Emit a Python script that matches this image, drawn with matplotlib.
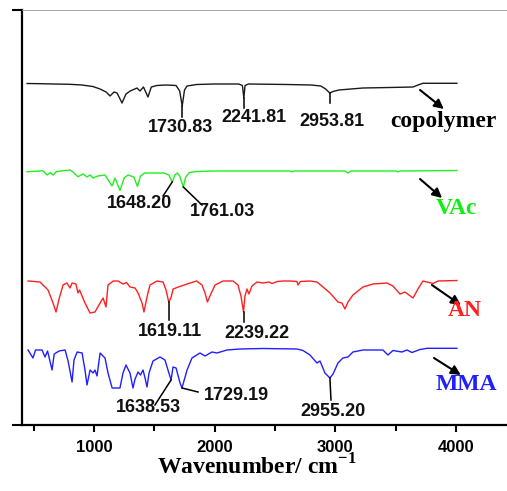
import numpy as np
import matplotlib
matplotlib.use('Agg')
import matplotlib.pyplot as plt

plt.rcParams['mathtext.fontset'] = 'custom'
plt.rcParams['mathtext.rm'] = 'Liberation Serif:bold'

# spectra: wavenumber (cm-1) and band depth below each trace's baseline
wn_copolymer = [445, 560, 660, 800, 900, 990, 1050, 1100, 1133, 1165, 1191, 1232, 1265, 1300,
                1356, 1381, 1410, 1447, 1475, 1520, 1600, 1680, 1710, 1730.83, 1750, 1771,
                1850, 2000, 2200, 2230, 2241.81, 2252, 2280, 2600, 2800, 2880, 2920, 2953.81,
                2981, 3030, 3229, 3450, 3644, 3685, 3726, 4008]
d_copolymer = [-0.5, -0.3, 0, 0.3, 1, 2.5, 5, 8, 12, 8, 9, 19, 10, 7,
               4, 7, 3, 13, 3, 1.5, 1, 1.5, 7, 22, 6, 2,
               0.5, 0, 0, 1.5, 14, 1.5, 0, 0.5, 1, 2, 5, 9,
               7.5, 6, 4, 3.5, 3, 1, -0.7, -0.7]

wn_vac = [445, 560, 577, 611, 640, 660, 690, 801, 830, 867, 909, 942, 967, 992, 1030,
          1091, 1149, 1174, 1215, 1250, 1282, 1330, 1360, 1385, 1420, 1500, 1580, 1620,
          1648.20, 1670, 1690, 1710, 1740, 1760, 1790, 1850, 2000, 2620, 2640, 2660,
          3080, 3105, 3130, 3500, 3520, 3540, 4008]
d_vac = [0.7, 0, -0.3, 4, 1.5, 4, 0.5, -1, 1.5, 5.7, 3, 6, 4, 7, 5,
         4, 15, 7, 19.5, 7, 4, 6, 15.5, 5, 2, 2, 2, 4,
         11, 4, 2, 5, 16, 6, 1.5, 0.5, 0, 0, 0.8, 0,
         0, 2, 0, 0, 0.8, 0, -0.5]

wn_an = [453, 552, 619, 660, 685, 710, 743, 775, 801, 818, 850, 867, 880, 925, 967, 1008,
         1050, 1075, 1099, 1116, 1160, 1199, 1240, 1270, 1298, 1340, 1365, 1398, 1414,
         1439, 1464, 1522, 1572, 1597, 1619.11, 1640, 1655, 1700, 1771, 1850, 1895, 1920,
         1940, 1961, 2003, 2070, 2152, 2193, 2218, 2239.22, 2251, 2268, 2284, 2309, 2351,
         2401, 2450, 2475, 2520, 2566, 2624, 2682, 2691, 2710, 2790, 2848, 2898, 2956,
         3000, 3022, 3055, 3080, 3105, 3146, 3229, 3312, 3428, 3478, 3536, 3577, 3644,
         3685, 3726, 3809, 3851, 4008]
d_an = [0, 1, 9, 22, 31, 18, 4, 2, 7, 2, 3, 12, 9, 22, 32, 31,
        22, 17, 26, 4, 0, 0, 3, 1.5, 6, 7, 12, 22, 31,
        16, 4, 0, 1, 9, 21, 16, 8, 6, 3, 0, 4, 12,
        21, 15, 4, 0, 0, 4, 15, 31, 15, 8, 13, 5, 1,
        2, 1, 2.5, 0.5, 0, 0, 0.5, 4, 0.5, 0, 1, 6, 12,
        18, 21, 22, 28, 21, 14, 6, 3, 2, 5, 13, 11, 17,
        8, 0, 2.5, 0, -0.5]

wn_mma = [453, 494, 515, 569, 594, 615, 652, 670, 710, 760, 785, 818, 834, 860, 901, 925,
          942, 967, 992, 1008, 1025, 1050, 1091, 1116, 1150, 1191, 1215, 1240, 1265, 1298,
          1323, 1340, 1365, 1385, 1406, 1423, 1439, 1456, 1489, 1547, 1588, 1613, 1638.53,
          1655, 1680, 1713, 1729.19, 1771, 1812, 1878, 1920, 1978, 2019, 2102, 2210, 2400,
          2682, 2732, 2790, 2848, 2873, 2914, 2955.20, 2981, 3022, 3063, 3105, 3146, 3229,
          3395, 3436, 3478, 3552, 3594, 3635, 3702, 3760, 4008]
d_mma = [1, 9, 1, 1, 8, 2, 21, 5, 2, 1, 12, 33, 11, 3, 4, 21,
         36, 21, 24, 21, 27, 4, 9, 24, 39, 39, 39, 24, 16, 24,
         39, 30, 23, 26, 21, 29, 38, 24, 12, 8, 11, 21, 31,
         18, 19, 34, 39, 21, 9, 4, 7, 3, 4, 1, 0, -0.5,
         0, 1.5, 6, 14, 12, 24, 29, 25, 14, 9, 8, 3, 1,
         1, 6, 1.5, 3, 1, 3.5, 0.5, -0.7, -0.7]

names = ['copolymer', 'VAc', 'AN', 'MMA']
baselines = [341, 254, 144, 76]
line_colors = ['#1a1a1a', '#22ee22', '#ff2020', '#1f1fff']
name_colors = ['#000000', '#11ee11', '#ff2020', '#1f1fff']
spectra = [(wn_copolymer, d_copolymer), (wn_vac, d_vac), (wn_an, d_an), (wn_mma, d_mma)]

# peak labels: series index, band position on trace, text, leader end, text centre
peaks = [
    (0, 1730.83, '1730.83', (1730.83, 308), (1713, 297)),
    (0, 2241.81, '2241.81', (2241.81, 317), (2326, 308)),
    (0, 2953.81, '2953.81', (2953.81, 322), (2972, 303)),
    (1, 1648.20, '1648.20', (1572, 229), (1373, 221)),
    (1, 1740, '1761.03', (1895, 220), (2069, 213)),
    (2, 1619.11, '1619.11', (1619.11, 105), (1630, 94)),
    (2, 2239.22, '2239.22', (2239.22, 103), (2351, 92)),
    (3, 1638.53, '1638.53', (1505, 20), (1447, 17)),
    (3, 1729.19, '1729.19', (1862, 33), (2177, 29)),
    (3, 2955.20, '2955.20', (2964, 25), (2981, 13)),
]

# name arrows: start, end, label centre
name_marks = [
    ((3702, 335), (3900, 316), (3900, 304)),
    ((3702, 246), (3885, 227), (4000, 217)),
    ((3801, 140), (4040, 120), (4075, 114)),
    ((3818, 67), (4040, 50), (4083, 40)),
]

fig = plt.figure(figsize=(5.07, 4.91), dpi=100)
ax = fig.add_axes([22 / 507, 66 / 491, 485 / 507, 415 / 491])
ax.set_xlim(403, 4423)
ax.set_ylim(0, 415)

traces = []
for (wn, d), base, col in zip(spectra, baselines, line_colors):
    y = base - np.array(d)
    ax.plot(wn, y, color=col, lw=1.0, solid_joinstyle='round')
    traces.append((np.array(wn), y))

for idx, pos, txt, end, tpos in peaks:
    wn, y = traces[idx]
    y0 = np.interp(pos, wn, y)
    ax.plot([pos, end[0]], [y0, end[1]], color='black', lw=1.1)
    ax.text(tpos[0], tpos[1], txt, ha='center', va='center', fontsize=13,
            fontweight='bold', family='Liberation Sans', color='#111111')

for (start, stop, lpos), name, col in zip(name_marks, names, name_colors):
    ax.annotate('', xy=stop, xytext=start,
                arrowprops=dict(arrowstyle='-|>', color='black', lw=1.5, mutation_scale=14,
                                shrinkA=0, shrinkB=0))
    ax.text(lpos[0], lpos[1], name, ha='center', va='center', fontsize=17,
            fontweight='bold', family='Liberation Serif', color=col)

ax.spines['right'].set_visible(False)
ax.spines['top'].set_color('#999999')
ax.spines['top'].set_linewidth(0.6)
ax.spines['left'].set_linewidth(1.6)
ax.spines['bottom'].set_linewidth(1.6)

ax.set_xticks([1000, 2000, 3000, 4000])
ax.set_xticks([500, 1500, 2500, 3500], minor=True)
ax.set_xticklabels(['1000', '2000', '3000', '4000'], fontsize=12, fontweight='bold',
                   family='Liberation Sans')
ax.tick_params(axis='x', which='major', direction='out', length=5, width=1.5, pad=6)
ax.tick_params(axis='x', which='minor', direction='out', length=4, width=1.5)
ax.set_yticks([0, 415])
ax.set_yticklabels([])
ax.tick_params(axis='y', direction='out', length=7.5, width=1.5)

ax.set_xlabel(r'Wavenumber/ cm$^{-1}$', fontsize=17, fontweight='bold', family='Liberation Serif')
ax.xaxis.set_label_coords((257 - 22) / 485, (425 - 454) / 415)

fig.savefig('out.png', dpi=100)
